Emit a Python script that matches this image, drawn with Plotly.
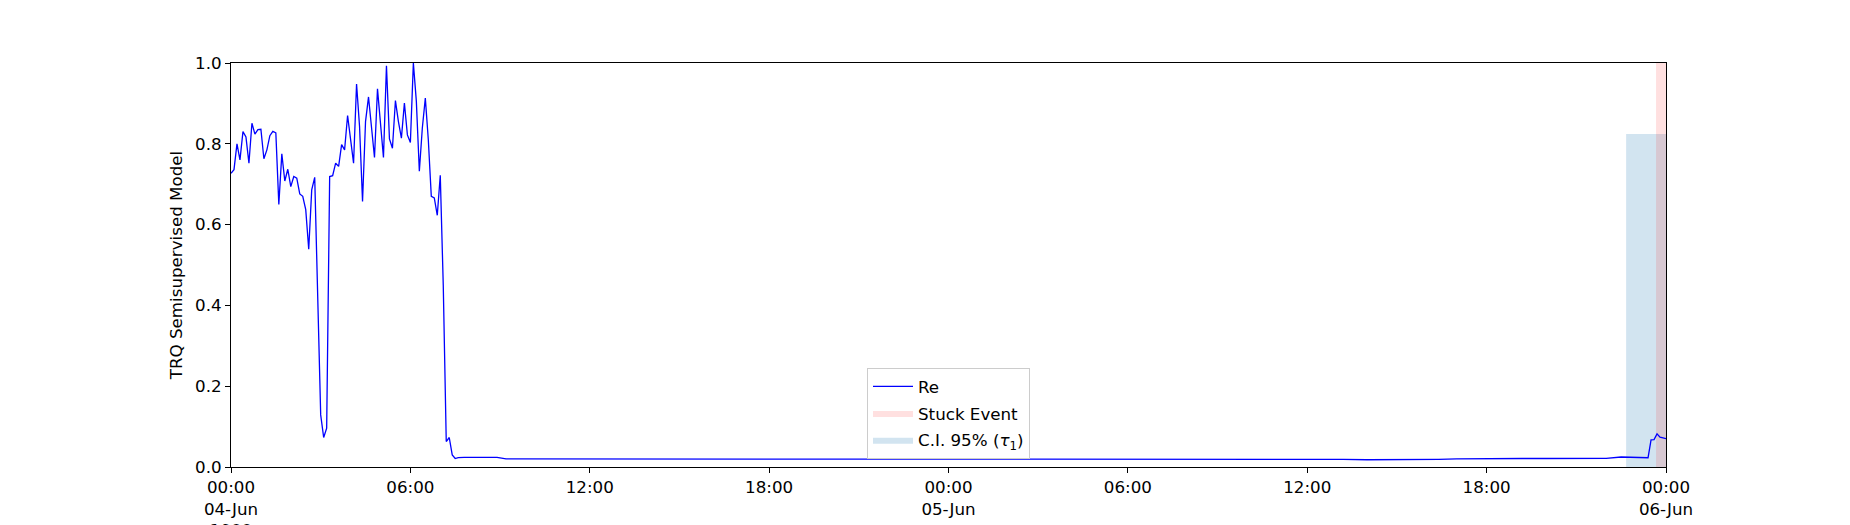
import pandas as pd
import plotly.graph_objects as go

# ---- data ----
base_date = "1900-06-04"

# 6-minute samples from 00:00 on 04-Jun (0.0 h .. 7.9 h)
dense_hours = [i * 0.1 for i in range(80)]
dense_values = [
    0.727, 0.736, 0.800, 0.760, 0.830, 0.817, 0.752, 0.851, 0.824, 0.835,
    0.836, 0.763, 0.785, 0.820, 0.831, 0.827, 0.650, 0.775, 0.708, 0.737,
    0.694, 0.719, 0.715, 0.676, 0.670, 0.637, 0.539, 0.686, 0.717, 0.400,
    0.129, 0.073, 0.096, 0.719, 0.721, 0.752, 0.744, 0.798, 0.785, 0.870,
    0.810, 0.752, 0.948, 0.843, 0.657, 0.855, 0.916, 0.843, 0.766, 0.936,
    0.860, 0.766, 0.993, 0.812, 0.789, 0.907, 0.855, 0.814, 0.901, 0.822,
    0.803, 1.000, 0.905, 0.732, 0.839, 0.913, 0.810, 0.670, 0.666, 0.623,
    0.722, 0.450, 0.063, 0.073, 0.030, 0.021, 0.023, 0.024, 0.024, 0.024,
]

# flat low section (hours since 04-Jun 00:00)
flat_hours = [8.5, 8.9, 9.2, 10, 11, 12, 13, 13.7, 14, 15, 16, 17, 18, 20,
              22, 24, 26, 28, 30, 32, 34, 36, 37.2, 38, 39, 40.4, 41, 42,
              43.0, 43.2, 44, 45, 46, 46.5, 46.7, 47.0, 47.4]
flat_values = [0.025, 0.024, 0.020, 0.020, 0.020, 0.020, 0.020, 0.019, 0.020,
               0.020, 0.0205, 0.020, 0.0205, 0.0205, 0.0205, 0.0205, 0.0205,
               0.0205, 0.0205, 0.0205, 0.0205, 0.0205, 0.019, 0.018, 0.018,
               0.019, 0.020, 0.0205, 0.0225, 0.021, 0.021, 0.021, 0.0215,
               0.0248, 0.024, 0.024, 0.023]

# final 6-minute samples
end_hours = [47.5, 47.6, 47.7, 47.8, 47.9, 48.0]
end_values = [0.067, 0.068, 0.082, 0.074, 0.072, 0.070]

stuck_event = ["1900-06-05 23:40", "1900-06-06 00:00"]
ci_window = ["1900-06-05 22:40", "1900-06-06 00:00"]
ci_height = 0.824

tick_vals = ["1900-06-04 00:00", "1900-06-04 06:00", "1900-06-04 12:00",
             "1900-06-04 18:00", "1900-06-05 00:00", "1900-06-05 06:00",
             "1900-06-05 12:00", "1900-06-05 18:00", "1900-06-06 00:00"]
tick_text = ["00:00<br>04-Jun<br>1900", "06:00", "12:00", "18:00",
             "00:00<br>05-Jun", "06:00", "12:00", "18:00", "00:00<br>06-Jun"]
y_ticks = [0.0, 0.2, 0.4, 0.6, 0.8, 1.0]

# ---- build ----
hours = dense_hours + flat_hours + end_hours
values = dense_values + flat_values + end_values
times = pd.Timestamp(base_date) + pd.to_timedelta(hours, unit="h")

FONT = "DejaVu Sans"
FS = 16.7
fig = go.Figure()

fig.add_trace(go.Scatter(
    x=[ci_window[0], ci_window[0], ci_window[1], ci_window[1], ci_window[0]],
    y=[0, ci_height, ci_height, 0, 0],
    fill="toself", fillcolor="rgba(31,119,180,0.2)", mode="lines",
    line=dict(width=0, color="rgba(31,119,180,0.2)"),
    name="C.I. 95% (<i>τ</i><sub>1</sub>)", legendrank=3, legendgroup="c",
    hoverinfo="skip"))

fig.add_trace(go.Scatter(
    x=[stuck_event[0], stuck_event[0], stuck_event[1], stuck_event[1], stuck_event[0]],
    y=[0, 1, 1, 0, 0],
    fill="toself", fillcolor="rgba(255,0,0,0.12)", mode="lines",
    line=dict(width=0, color="rgba(255,0,0,0.12)"),
    name="Stuck Event", legendrank=2, legendgroup="b", hoverinfo="skip"))

fig.add_trace(go.Scatter(
    x=times, y=values, mode="lines",
    line=dict(color="#0000ff", width=1.3),
    name="Re", legendrank=1, legendgroup="a"))

fig.update_layout(
    width=1850, height=525,
    margin=dict(l=223, r=192, t=55, b=66, autoexpand=False),
    paper_bgcolor="white", plot_bgcolor="white",
    font=dict(family=FONT, size=FS, color="black"),
    showlegend=True,
    legend=dict(x=0.5, xanchor="center", y=0.02, yanchor="bottom",
                tracegroupgap=2, itemwidth=40,
                bgcolor="rgba(255,255,255,0.8)", bordercolor="#cccccc",
                borderwidth=1, font=dict(family=FONT, size=FS, color="black")),
)

fig.update_xaxes(
    type="date", range=["1900-06-04 00:00", "1900-06-06 00:00"],
    tickmode="array", tickvals=tick_vals, ticktext=tick_text,
    showline=True, linecolor="black", linewidth=1, mirror=True,
    ticks="outside", ticklen=5, tickcolor="black", showgrid=False,
    zeroline=False, automargin=False,
    tickfont=dict(family=FONT, size=FS, color="black"))

fig.update_yaxes(
    range=[0, 1], tickmode="array", tickvals=y_ticks,
    ticktext=[f"{v:.1f}" for v in y_ticks],
    showline=True, linecolor="black", linewidth=1, mirror=True,
    ticks="outside", ticklen=5, tickcolor="black", showgrid=False,
    zeroline=False, automargin=False,
    tickfont=dict(family=FONT, size=FS, color="black"),
    title=dict(text="TRQ Semisupervised Model", standoff=8,
               font=dict(family=FONT, size=FS, color="black")))

fig.write_html("out.html")
